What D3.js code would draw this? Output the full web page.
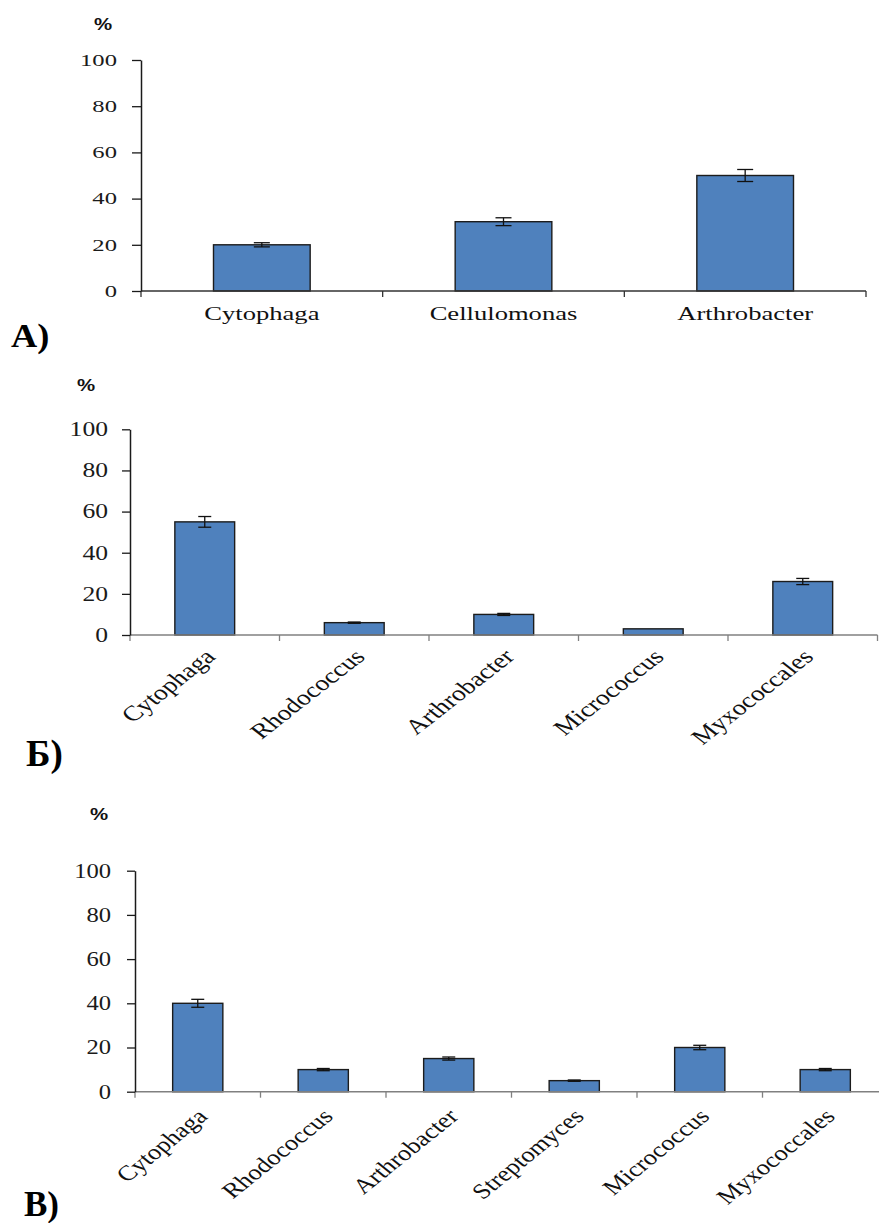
<!DOCTYPE html>
<html>
<head>
<meta charset="utf-8">
<script src="https://cdn.jsdelivr.net/npm/d3@7/dist/d3.min.js"></script>
<style>
  html, body { margin: 0; padding: 0; background: #fff; }
  svg { display: block; }
</style>
</head>
<body>
<svg id="chart" width="879" height="1223"></svg>
<script>
// Share of cellulolytic bacteria genera (%) in three samples
const catsA = ["Cytophaga", "Cellulomonas", "Arthrobacter"];
const valsA = [20, 30, 50];
const errA  = [0.9, 1.7, 2.6];

const catsB = ["Cytophaga", "Rhodococcus", "Arthrobacter", "Micrococcus", "Myxococcales"];
const valsB = [55, 6, 10, 3, 26];
const errB  = [2.6, 0.3, 0.5, 0, 1.5];

const catsC = ["Cytophaga", "Rhodococcus", "Arthrobacter", "Streptomyces", "Micrococcus", "Myxococcales"];
const valsC = [40, 10, 15, 5, 20, 10];
const errC  = [1.8, 0.5, 0.7, 0.3, 1.0, 0.5];

const yTicks = [0, 20, 40, 60, 80, 100];
const panelLabels = ["А)", "Б)", "В)"];
const unitLabel = "%";

const BAR_FILL = "#4f81bd";
const SERIF = "'Liberation Serif', 'Times New Roman', serif";
const SANS = "'Liberation Sans', Arial, sans-serif";

const svg = d3.select("#chart");

// stretched text helper
function stretchedText(g, str, x, y, opts) {
  const rot = opts.rotate ? ` rotate(${opts.rotate})` : "";
  return g.append("text")
    .attr("transform", `translate(${x},${y}) scale(${opts.sx},1)${rot}`)
    .attr("text-anchor", opts.anchor || "start")
    .attr("dy", opts.dy || 0)
    .style("font-family", opts.family || SERIF)
    .style("font-size", opts.size + "px")
    .style("font-weight", opts.weight || "normal")
    .attr("fill", opts.fill || "#111")
    .text(str);
}

function drawPanel(cfg, cats, vals, errs) {
  const g = svg.append("g");
  const x = d3.scaleBand().domain(cats)
    .range([cfg.x0, cfg.x1]).paddingInner(0.6).paddingOuter(0.3);
  const y = d3.scaleLinear().domain([0, 100]).range([cfg.yBottom, cfg.yTop]);
  const step = x.step();

  // bars
  g.selectAll("rect.bar").data(cats).join("rect")
    .attr("class", "bar")
    .attr("x", d => x(d))
    .attr("y", (d, i) => y(vals[i]))
    .attr("width", x.bandwidth())
    .attr("height", (d, i) => y(0) - y(vals[i]))
    .attr("fill", BAR_FILL)
    .attr("stroke", "#1c1c1c")
    .attr("stroke-width", 1.4);

  // error bars
  const eb = g.selectAll("g.err").data(cats.map((c, i) => ({c, v: vals[i], e: errs[i]})).filter(d => d.e > 0))
    .join("g").attr("class", "err")
    .attr("stroke", "#111").attr("stroke-width", 1.3);
  const cx = d => x(d.c) + x.bandwidth() / 2;
  eb.append("line")
    .attr("x1", cx).attr("x2", cx)
    .attr("y1", d => y(d.v + d.e)).attr("y2", d => y(d.v - d.e));
  eb.append("line")
    .attr("x1", d => cx(d) - cfg.cap / 2).attr("x2", d => cx(d) + cfg.cap / 2)
    .attr("y1", d => y(d.v + d.e)).attr("y2", d => y(d.v + d.e));
  eb.append("line")
    .attr("x1", d => cx(d) - cfg.cap / 2).attr("x2", d => cx(d) + cfg.cap / 2)
    .attr("y1", d => y(d.v - d.e)).attr("y2", d => y(d.v - d.e));

  // x axis line and category boundary ticks
  g.append("line")
    .attr("x1", cfg.x0).attr("x2", cfg.x1)
    .attr("y1", y(0)).attr("y2", y(0))
    .attr("stroke", cfg.xAxisColor).attr("stroke-width", 1.5);
  g.selectAll("line.xtick").data(d3.range(cats.length + 1)).join("line")
    .attr("class", "xtick")
    .attr("x1", i => cfg.x0 + i * step).attr("x2", i => cfg.x0 + i * step)
    .attr("y1", y(0)).attr("y2", y(0) + 6)
    .attr("stroke", cfg.xAxisColor).attr("stroke-width", 1.3);

  // y axis
  const yAxis = d3.axisLeft(y).tickValues(yTicks).tickSize(cfg.yTickLen).tickSizeOuter(0).tickFormat("");
  const ya = g.append("g").attr("transform", `translate(${cfg.x0},0)`).call(yAxis);
  ya.select(".domain").attr("stroke", "#1a1a1a").attr("stroke-width", 1.5);
  ya.selectAll(".tick line").attr("stroke", "#1a1a1a").attr("stroke-width", 1.3);

  yTicks.forEach(t => {
    stretchedText(g, String(t), cfg.yLabelX, y(t), {
      sx: cfg.tickSx, size: cfg.tickSize, anchor: "end", dy: "0.34em", fill: "#1a1a1a"
    });
  });

  // category labels
  cats.forEach(c => {
    const center = x(c) + x.bandwidth() / 2;
    if (cfg.rotate) {
      stretchedText(g, c, center + cfg.labDx, y(0) + cfg.labDy, {
        sx: cfg.catSx, size: cfg.catSize, anchor: "end", rotate: -45, fill: "#111"
      });
    } else {
      stretchedText(g, c, center, y(0) + cfg.labDy, {
        sx: cfg.catSx, size: cfg.catSize, anchor: "middle", fill: "#111"
      });
    }
  });

  // unit label
  stretchedText(g, unitLabel, cfg.unitX, cfg.unitY, {
    sx: 1.2, size: 17, family: SANS, weight: "bold", anchor: "start", fill: "#111"
  });

  // panel letter
  stretchedText(g, cfg.letter, cfg.letterX, cfg.letterY, {
    sx: cfg.letterSx, size: cfg.letterSize, weight: "bold", anchor: "start", fill: "#000"
  });
}

drawPanel({
  x0: 141, x1: 866, yBottom: 291, yTop: 60, cap: 16, yTickLen: 9,
  xAxisColor: "#333", yLabelX: 117, tickSx: 1.45, tickSize: 17,
  rotate: false, catSx: 1.4, catSize: 19, labDy: 29,
  unitX: 94, unitY: 30, letter: panelLabels[0], letterX: 11, letterY: 347,
  letterSx: 1.1, letterSize: 33
}, catsA, valsA, errA);

drawPanel({
  x0: 130, x1: 877.5, yBottom: 635, yTop: 429.3, cap: 13, yTickLen: 8,
  xAxisColor: "#808080", yLabelX: 108, tickSx: 1.28, tickSize: 20,
  rotate: true, catSx: 1.28, catSize: 21.5, labDx: 12, labDy: 23,
  unitX: 77, unitY: 391, letter: panelLabels[1], letterX: 26, letterY: 766,
  letterSx: 1.0, letterSize: 37
}, catsB, valsB, errB);

drawPanel({
  x0: 135, x1: 888, yBottom: 1091.7, yTop: 870.7, cap: 13, yTickLen: 8,
  xAxisColor: "#808080", yLabelX: 111, tickSx: 1.2, tickSize: 20.5,
  rotate: true, catSx: 1.24, catSize: 21.5, labDx: 11, labDy: 26,
  unitX: 90, unitY: 820, letter: panelLabels[2], letterX: 24, letterY: 1216,
  letterSx: 1.0, letterSize: 35
}, catsC, valsC, errC);
</script>
</body>
</html>
